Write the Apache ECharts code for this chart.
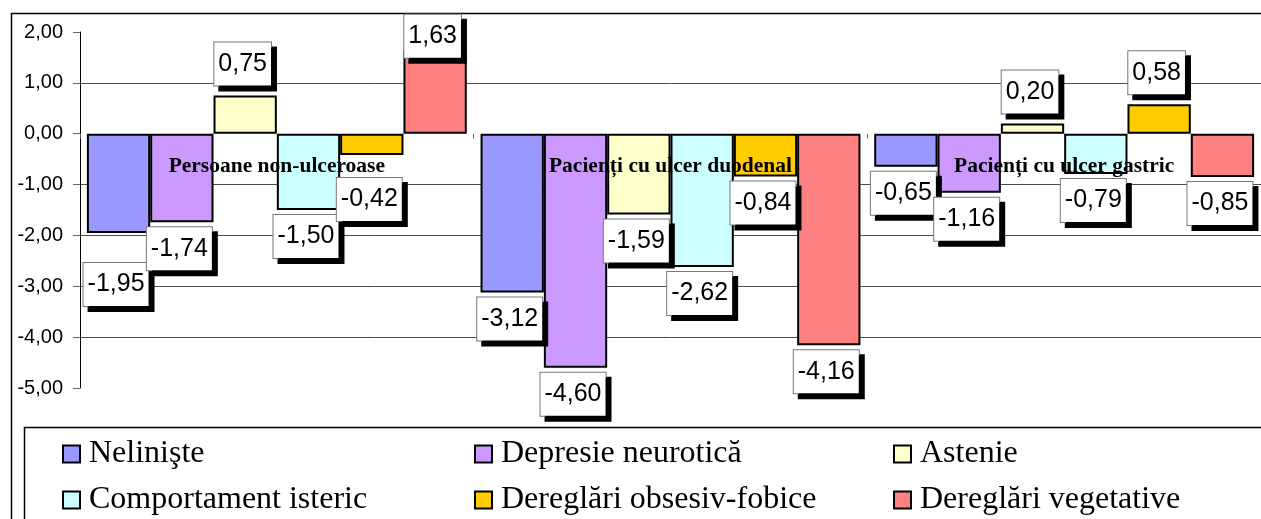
<!DOCTYPE html>
<html>
<head>
<meta charset="utf-8">
<script src="https://cdn.jsdelivr.net/npm/echarts@6/dist/echarts.min.js"></script>
<style>
html,body{margin:0;padding:0;background:#fff;}
#chart{width:1261px;height:519px;}
</style>
</head>
<body>
<div id="chart"></div>
<script>
// ---- data ----
const categories = ['Persoane non-ulceroase', 'Pacienți cu ulcer duodenal', 'Pacienți cu ulcer gastric'];
const seriesNames = ['Nelinişte', 'Depresie neurotică', 'Astenie', 'Comportament isteric', 'Dereglări obsesiv-fobice', 'Dereglări vegetative'];
const nelinisteValues = [-1.95, -3.12, -0.65];
const depresieValues = [-1.74, -4.60, -1.16];
const astenieValues = [0.75, -1.59, 0.20];
const comportamentValues = [-1.50, -2.62, -0.79];
const obsesivValues = [-0.42, -0.84, 0.58];
const vegetativeValues = [1.63, -4.16, -0.85];
const yMin = -5, yMax = 2, yStep = 1;

// ---- styling ----
const seriesValues = [nelinisteValues, depresieValues, astenieValues, comportamentValues, obsesivValues, vegetativeValues];
const colors = ['#9999FF', '#CC99FF', '#FFFFCC', '#CCFFFF', '#FFCC00', '#FF8080'];
// manual label displacements (as in the original, to avoid overlaps)
const labelShift = { '0-0': 25, '4-0': 18, '5-0': 17 };

const fmt = v => v.toFixed(2).replace('.', ',');

const gridTop = 32, gridHeight = 356;
// put the category axis on the zero line of the value axis
const xAxisOffset = -gridHeight * (0 - yMin) / (yMax - yMin);

const series = seriesNames.map((name, si) => ({
  name,
  type: 'bar',
  barGap: '0%',
  barCategoryGap: '3.5%',
  z: 2,
  itemStyle: { color: colors[si], borderColor: '#000', borderWidth: 2 },
  data: seriesValues[si].map((v, ci) => ({
    value: v,
    label: {
      position: v >= 0 ? 'top' : 'bottom',
      distance: v >= 0 ? 10 : 5,
      offset: [-2.5, labelShift[si + '-' + ci] || 0]
    }
  })),
  label: {
    show: true,
    formatter: p => fmt(p.value),
    fontFamily: '"Liberation Sans", Arial, sans-serif',
    fontSize: 25,
    lineHeight: 25,
    color: '#000',
    backgroundColor: '#fff',
    borderColor: '#777',
    borderWidth: 1,
    padding: [9, 4, 9, 4],
    shadowColor: '#000',
    shadowBlur: 0,
    shadowOffsetX: 5,
    shadowOffsetY: 5
  }
}));

const legendPos = [
  { left: 62, top: 438 }, { left: 474, top: 438 }, { left: 893, top: 438 },
  { left: 62, top: 484 }, { left: 474, top: 484 }, { left: 893, top: 484 }
];
const legends = seriesNames.map((name, i) => ({
  data: [name],
  left: legendPos[i].left,
  top: legendPos[i].top,
  padding: 0,
  icon: 'rect',
  itemWidth: 17,
  itemHeight: 17,
  selectedMode: false,
  itemStyle: { borderColor: '#000', borderWidth: 2 },
  textStyle: { fontFamily: '"Liberation Serif", "Times New Roman", serif', fontSize: 32, lineHeight: 32, color: '#000', padding: [0, 0, 0, 4] }
}));

const gridColor = '#4d4d4d';
// one colour per y tick from min to max; hide the lines at min, 0 and max
const splitColors = [];
for (let v = yMin; v <= yMax + 1e-9; v += yStep) {
  splitColors.push((Math.abs(v) < 1e-9 || Math.abs(v - yMin) < 1e-9 || Math.abs(v - yMax) < 1e-9) ? 'rgba(0,0,0,0)' : gridColor);
}

const option = {
  animation: false,
  backgroundColor: '#fff',
  grid: { left: 80, top: gridTop, width: 1194, height: gridHeight, containLabel: false },
  legend: legends,
  xAxis: {
    type: 'category',
    data: categories,
    z: 10,
    position: 'bottom',
    offset: xAxisOffset,
    axisLine: { show: false, onZero: false },
    axisTick: { show: true, length: 5, lineStyle: { color: '#666', width: 1 } },
    axisLabel: {
      margin: 22,
      fontFamily: '"Liberation Serif", "Times New Roman", serif',
      fontWeight: 'bold',
      fontSize: 21.5,
      color: '#000'
    },
    splitLine: { show: false }
  },
  yAxis: {
    type: 'value',
    min: yMin,
    max: yMax,
    interval: yStep,
    axisLine: { show: true, lineStyle: { color: '#000', width: 1 } },
    axisTick: { show: true, length: 7, lineStyle: { color: '#666', width: 1 } },
    axisLabel: {
      formatter: v => fmt(v),
      margin: 17,
      fontFamily: '"Liberation Sans", Arial, sans-serif',
      fontSize: 20,
      color: '#000'
    },
    splitLine: { show: true, lineStyle: { color: splitColors, width: 1 } }
  },
  graphic: [
    { type: 'rect', z: -10, silent: true, shape: { x: 11.5, y: 13.5, width: 1400, height: 600 }, style: { fill: 'none', stroke: '#000', lineWidth: 1.5 } },
    { type: 'rect', z: -10, silent: true, shape: { x: 24.5, y: 427.5, width: 1400, height: 300 }, style: { fill: 'none', stroke: '#000', lineWidth: 1.5 } }
  ],
  series
};

const chart = echarts.init(document.getElementById('chart'), null, { renderer: 'canvas' });
chart.setOption(option);
</script>
</body>
</html>
